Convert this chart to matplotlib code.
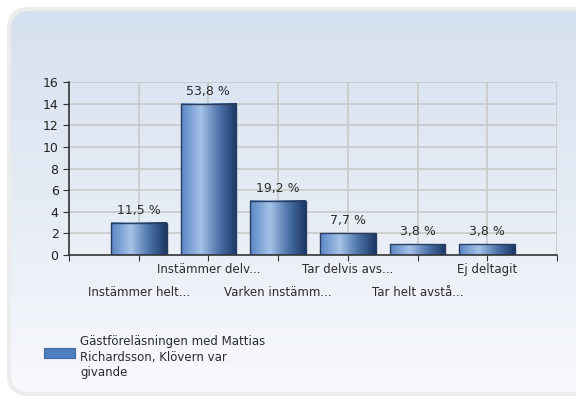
import numpy as np
import matplotlib
matplotlib.use("Agg")
import matplotlib.pyplot as plt
from matplotlib.patches import FancyBboxPatch, Rectangle
from matplotlib.colors import LinearSegmentedColormap

# data
categories = ["Instämmer helt...", "Instämmer delv...", "Varken instämm...",
              "Tar delvis avs...", "Tar helt avstå...", "Ej deltagit"]
counts = [3, 14, 5, 2, 1, 1]
percent_labels = ["11,5 %", "53,8 %", "19,2 %", "7,7 %", "3,8 %", "3,8 %"]
legend_text = "Gästföreläsningen med Mattias\nRichardsson, Klövern var\ngivande"

plt.rcParams['font.family'] = ['DejaVu Sans']
W, H = 576, 401
fig = plt.figure(figsize=(W / 100, H / 100), dpi=100)
fig.patch.set_facecolor("white")

# rounded background panel with vertical gradient (blue top -> white bottom)
bg = fig.add_axes([0, 0, 1, 1], zorder=-10)
bg.set_xlim(0, W)
bg.set_ylim(H, 0)
bg.axis("off")
shadow = FancyBboxPatch((9, 9), W + 20, H - 16, boxstyle="round,pad=0,rounding_size=20",
                        facecolor="none", edgecolor="#ececec", linewidth=3)
bg.add_patch(shadow)
panel = FancyBboxPatch((9, 9), W + 20, H - 16, boxstyle="round,pad=0,rounding_size=20",
                       facecolor="none", edgecolor="none")
bg.add_patch(panel)
bg_cmap = LinearSegmentedColormap.from_list("bg", ["#d5e0f0", "#e6ecf5", "#f8f9fc"])
grad = np.linspace(0, 1, 256).reshape(-1, 1)
bg.imshow(grad, cmap=bg_cmap, extent=(9, W + 29, H - 7, 9), aspect="auto",
          origin="upper", clip_path=panel)
bg.set_xlim(0, W)
bg.set_ylim(H, 0)

# main chart
ax = fig.add_axes([69 / W, 1 - 255 / H, (557 - 69) / W, (255 - 82) / H])
ax.patch.set_alpha(0)

for v in range(2, 17, 2):
    ax.axhline(v, color="#c9c9c9", lw=1.2, zorder=1)
for x in range(1, 8):
    ax.axvline(x, color="#c9c9c9", lw=1.2, zorder=1)

bar_cmap = LinearSegmentedColormap.from_list(
    "bar", [(0, "#5a86c4"), (0.35, "#a5c2e8"), (0.7, "#4a70a6"), (1, "#1a3763")])
row = np.linspace(0, 1, 128).reshape(1, -1)
xs = np.arange(1, len(counts) + 1)
bars = ax.bar(xs, counts, width=0.8, facecolor="none", edgecolor="#2a3f60",
              linewidth=1, zorder=3)
for b, lab in zip(bars, percent_labels):
    x0, y0 = b.get_x(), b.get_y()
    w, h = b.get_width(), b.get_height()
    ax.imshow(row, cmap=bar_cmap, extent=(x0, x0 + w, y0, y0 + h),
              aspect="auto", zorder=2)
    ax.text(x0 + w / 2, h + 0.55, lab, ha="center", va="bottom",
            fontsize=9, color="#2b2b2b", zorder=4)
ax.set_xlim(0, 7)
ax.set_ylim(0, 16)

for s in ["top", "right"]:
    ax.spines[s].set_visible(False)
for s in ["left", "bottom"]:
    ax.spines[s].set_color("#333333")
    ax.spines[s].set_linewidth(1.2)

ax.set_yticks(range(0, 17, 2))
ax.set_xticks(range(0, 8))
ax.set_xticklabels([])
ax.tick_params(axis="y", labelsize=9, length=4, colors="#333333", labelcolor="#222222")
ax.tick_params(axis="x", length=4, colors="#333333")

# staggered category labels
for i, c in enumerate(categories):
    y = -0.085 if i % 2 == 1 else -0.215
    ax.text(xs[i], y, c, transform=ax.get_xaxis_transform(), ha="center",
            va="center", fontsize=8.5, color="#2b2b2b")

# legend
bg.add_patch(Rectangle((44, 348), 31, 10, facecolor="#4f7ec0", edgecolor="#3f6aa5", lw=0.8))
bg.text(80, 357, legend_text, ha="left", va="center", fontsize=8.5,
        color="#2b2b2b", linespacing=1.25)

fig.savefig("out.png", dpi=100)
